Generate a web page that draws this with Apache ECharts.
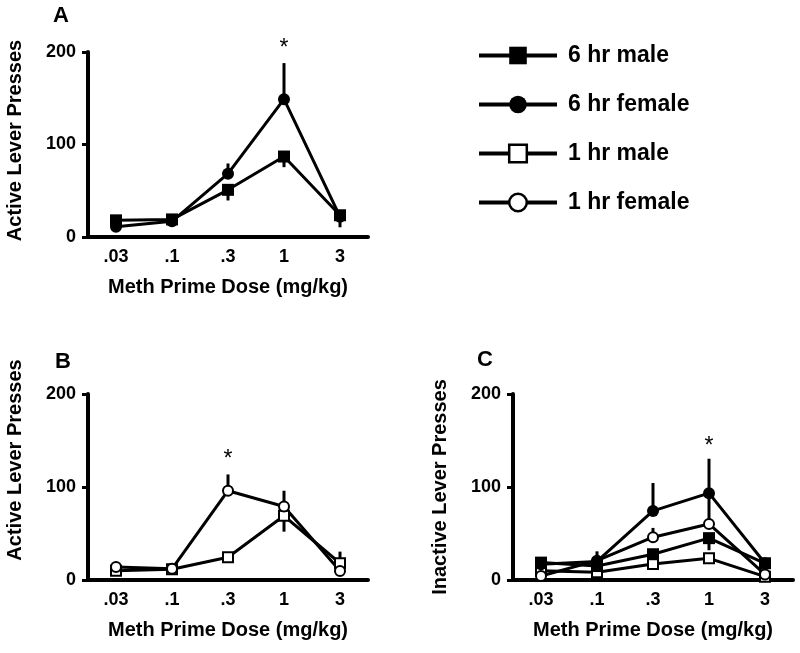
<!DOCTYPE html>
<html><head><meta charset="utf-8">
<script src="https://cdn.jsdelivr.net/npm/echarts@6/dist/echarts.min.js"></script>
<style>html,body{margin:0;padding:0;background:#fff}#c{width:800px;height:653px}</style>
</head><body><div id="c"></div>
<script>
// ---------- data ----------
const doses = ['.03', '.1', '.3', '1', '3'];
const yMin = 0, yMax = 200, yStep = 100;
const seriesNames = ['6 hr male', '6 hr female', '1 hr male', '1 hr female'];
const panelTitles = ['A', 'B', 'C'];
const yNames = ['Active Lever Presses', 'Active Lever Presses', 'Inactive Lever Presses'];
const xName = 'Meth Prime Dose (mg/kg)';

// Panel A: active lever presses, 6 hr groups (errors: + drawn up, - drawn down)
const a6Male = [18, 19, 51, 87, 23.5];
const a6MaleErr = [0, 0, -11.5, -11.5, -13];
const a6Female = [11, 17, 68.5, 149, 22];
const a6FemaleErr = [0, 0, 11, 39, 0];
const aStar = [[3, 204]];

// Panel B: active lever presses, 1 hr groups
const b1Male = [10, 11.5, 24.5, 69, 18];
const b1MaleErr = [0, 0, 0, -17, 12.5];
const b1Female = [14, 12, 96, 79, 9.7];
const b1FemaleErr = [0, 0, 17.5, 17, 0];
const bStar = [[2, 129]];

// Panel C: inactive lever presses, all groups
const c6Male = [18.7, 15, 27.7, 45, 18];
const c6MaleErr = [0, 0, 0, -13, 0];
const c6Female = [17, 20, 74.3, 93.4, 18];
const c6FemaleErr = [0, 0, 30, 37, 0];
const c1Male = [10, 8.3, 17.2, 23.3, 3.6];
const c1MaleErr = [0, 0, 0, 0, 0];
const c1Female = [4.3, 20.8, 46, 60.3, 6];
const c1FemaleErr = [0, 10, 10, 33, 0];
const cStar = [[3, 143.5]];

// ---------- styles ----------
const FONT = "'Liberation Sans', Arial, sans-serif";
const symbolDefs = {
  '6 hr male':   { symbol: 'rect',   size: 12, fill: '#000', bw: 0 },
  '6 hr female': { symbol: 'circle', size: 12, fill: '#000', bw: 0 },
  '1 hr male':   { symbol: 'rect',   size: 10, fill: '#fff', bw: 2 },
  '1 hr female': { symbol: 'circle', size: 10, fill: '#fff', bw: 2 }
};

const grids = [
  { left: 88, top: 52, width: 280, height: 185 },
  { left: 88, top: 394, width: 280, height: 186 },
  { left: 513, top: 394, width: 280, height: 186 }
];

function xAxis(i) {
  return {
    type: 'category', gridIndex: i, data: doses, boundaryGap: true,
    name: xName, nameLocation: 'middle', nameGap: 40,
    nameTextStyle: { fontFamily: FONT, fontWeight: 'bold', fontSize: 20, color: '#000' },
    axisLine: { lineStyle: { color: '#000', width: 4 } },
    axisTick: { alignWithLabel: true, length: 6, lineStyle: { color: '#000', width: 3 } },
    axisLabel: { margin: 11, fontFamily: FONT, fontWeight: 'bold', fontSize: 18, color: '#000' },
    splitLine: { show: false }
  };
}
function yAxis(i, pad) {
  return {
    type: 'value', gridIndex: i, min: yMin, max: yMax, interval: yStep,
    name: yNames[i], nameLocation: 'middle', nameGap: 63,
    nameTextStyle: { fontFamily: FONT, fontWeight: 'bold', fontSize: 20, color: '#000', padding: pad },
    axisLine: { show: true, lineStyle: { color: '#000', width: 4 } },
    axisTick: { show: true, length: 6, lineStyle: { color: '#000', width: 3 } },
    axisLabel: { margin: 12, fontFamily: FONT, fontWeight: 'bold', fontSize: 18, color: '#000' },
    splitLine: { show: false }
  };
}

function lineSeries(name, values, gi) {
  const d = symbolDefs[name];
  return {
    type: 'line', name: name, xAxisIndex: gi, yAxisIndex: gi, z: 3,
    data: values, symbol: d.symbol, symbolSize: d.size, showAllSymbol: true,
    lineStyle: { color: '#000', width: 3 },
    itemStyle: { color: d.fill, borderColor: '#000', borderWidth: d.bw, opacity: 1 },
    emphasis: { disabled: true }, animation: false
  };
}
function errSeries(values, errs, gi) {
  return {
    type: 'custom', name: 'err' + gi, xAxisIndex: gi, yAxisIndex: gi, z: 2,
    encode: { x: 0, y: 1 },
    data: values.map((v, k) => [k, v, errs[k]]),
    renderItem: function (params, api) {
      const k = api.value(0), v = api.value(1), e = api.value(2);
      if (!e) return null;
      const p0 = api.coord([k, v]), p1 = api.coord([k, v + e]);
      return { type: 'line', shape: { x1: p0[0], y1: p0[1], x2: p1[0], y2: p1[1] },
               style: { stroke: '#000', lineWidth: 3 } };
    },
    animation: false, silent: true
  };
}
function starSeries(pts, gi) {
  return {
    type: 'custom', name: 'star' + gi, xAxisIndex: gi, yAxisIndex: gi, z: 4,
    encode: { x: 0, y: 1 }, data: pts,
    renderItem: function (params, api) {
      const p = api.coord([api.value(0), api.value(1)]);
      return { type: 'text', x: p[0], y: p[1],
               style: { text: '*', fill: '#000', font: '23px ' + FONT, align: 'center', verticalAlign: 'middle' } };
    },
    animation: false, silent: true
  };
}

const option = {
  backgroundColor: '#fff',
  animation: false,
  title: [
    { text: panelTitles[0], left: 53, top: 5 },
    { text: panelTitles[1], left: 55, top: 351 },
    { text: panelTitles[2], left: 477, top: 349 }
  ].map(t => Object.assign(t, { padding: 0, textStyle: { fontFamily: FONT, fontWeight: 'bold', fontSize: 22, color: '#000' } })),
  legend: {
    orient: 'vertical', left: 472, top: 39, itemWidth: 78, itemHeight: 22, itemGap: 26,
    selectedMode: false,
    data: seriesNames.map(n => ({ name: n, itemStyle: { borderWidth: symbolDefs[n].bw ? 2.5 : 0, borderColor: '#000' } })),
    lineStyle: { width: 4, color: '#000' },
    textStyle: { fontFamily: FONT, fontWeight: 'bold', fontSize: 23, color: '#000', padding: [0, 0, 0, 6] }
  },
  grid: grids,
  xAxis: [xAxis(0), xAxis(1), xAxis(2)],
  yAxis: [yAxis(0, [0, 0, 0, 8]), yAxis(1, [0, 0, 0, 54]), yAxis(2, [0, 0, 0, 0])],
  series: [
    errSeries(a6Male, a6MaleErr, 0), errSeries(a6Female, a6FemaleErr, 0),
    lineSeries('6 hr male', a6Male, 0), lineSeries('6 hr female', a6Female, 0),
    starSeries(aStar, 0),
    errSeries(b1Male, b1MaleErr, 1), errSeries(b1Female, b1FemaleErr, 1),
    lineSeries('1 hr male', b1Male, 1), lineSeries('1 hr female', b1Female, 1),
    starSeries(bStar, 1),
    errSeries(c6Male, c6MaleErr, 2), errSeries(c6Female, c6FemaleErr, 2),
    errSeries(c1Male, c1MaleErr, 2), errSeries(c1Female, c1FemaleErr, 2),
    lineSeries('1 hr male', c1Male, 2), lineSeries('1 hr female', c1Female, 2),
    lineSeries('6 hr male', c6Male, 2), lineSeries('6 hr female', c6Female, 2),
    starSeries(cStar, 2)
  ]
};
const chart = echarts.init(document.getElementById('c'), null, { renderer: 'canvas' });
chart.setOption(option);
</script></body></html>
